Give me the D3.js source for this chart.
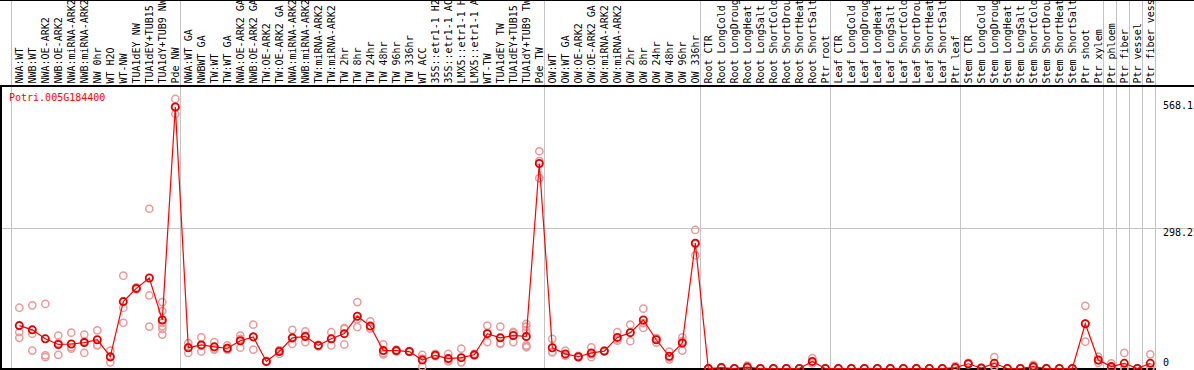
<!DOCTYPE html>
<meta charset="utf-8">
<style>
body { margin: 0; background: #fff; }
text { font-family: "DejaVu Sans Mono", monospace; font-size: 10px; }
</style>
<body>
<script src="https://cdn.jsdelivr.net/npm/d3@7/dist/d3.min.js"></script>
<script>

// sample labels, in column order
var labels = [
  "NWA:WT", "NWB:WT", "NWA:OE-ARK2", "NWB:OE-ARK2", "NWA:miRNA-ARK2", "NWB:miRNA-ARK2",
  "NW 0hr", "WT H2O", "WT-NW", "TUA1dEY NW", "TUA1dEY+TUB15 NW", "TUA1dY+TUB9 NW", "Pde NW",
  "NWA:WT GA", "NWBWT GA", "TW:WT", "TW:WT GA", "NWA:OE-ARK2 GA", "NWB:OE-ARK2 GA",
  "TW:OE-ARK2", "TW:OE-ARK2 GA", "NWA:miRNA-ARK2", "NWB:miRNA-ARK2", "TW:miRNA-ARK2", "TW:miRNA-ARK2",
  "TW 2hr", "TW 8hr", "TW 24hr", "TW 48hr", "TW 96hr", "TW 336hr", "WT ACC",
  "35S::etr1-1 H2O", "35S::etr1-1 ACC", "LMX5::etr1-1 H2O", "LMX5::etr1-1 ACC",
  "WT-TW", "TUA1dEY TW", "TUA1dEY+TUB15 TW", "TUA1dY+TUB9 TW", "Pde TW",
  "OW:WT", "OW:WT GA", "OW:OE-ARK2", "OW:OE-ARK2 GA", "OW:miRNA-ARK2", "OW:miRNA-ARK2",
  "OW 2hr", "OW 8hr", "OW 24hr", "OW 48hr", "OW 96hr", "OW 336hr",
  "Root CTR", "Root LongCold", "Root LongDrought", "Root LongHeat", "Root LongSalt",
  "Root ShortCold", "Root ShortDrought", "Root ShortHeat", "Root ShortSalt", "Ptr root",
  "Leaf CTR", "Leaf LongCold", "Leaf LongDrought", "Leaf LongHeat", "Leaf LongSalt",
  "Leaf ShortCold", "Leaf ShortDrought", "Leaf ShortHeat", "Leaf ShortSalt", "Ptr leaf",
  "Stem CTR", "Stem LongCold", "Stem LongDrought", "Stem LongHeat", "Stem LongSalt",
  "Stem ShortCold", "Stem ShortDrought", "Stem ShortHeat", "Stem ShortSalt", "Ptr shoot", "Ptr xylem",
  "Ptr phloem", "Ptr fiber", "Ptr vessel", "Ptr fiber vessel"
];

// index where each sample group begins
var groupStarts = [0, 13, 41, 53, 63, 73, 84, 85, 86, 87];

// mean expression per sample
var means = [
  91, 82, 63, 51, 52, 55, 61, 25, 142, 170, 192, 103, 555,
  44, 50, 46, 43, 59, 67, 15, 36, 65, 68, 49, 63, 74, 111, 90, 38, 38, 36, 18, 28, 21, 23, 29, 74, 65, 70, 68, 435,
  44, 31, 25, 33, 37, 66, 76, 103, 61, 26, 54, 266,
  0, 2, 0, 3, 0, 0, 0, 0, 15, 0,
  0, 0, 0, 0, 0, 0, 0, 0, 0, 2,
  10, 1, 11, 0, 0, 4, 0, 0, 0, 95, 18,
  4, 11, 0, 11
];

// replicate values per sample
var replicates = [
  [129, 77, 65], [134, 74, 38], [137, 28, 24], [70, 29, 54], [76, 42, 45], [72, 33, 58],
  [81, 49, 50], [38, 13, 24], [197, 129, 97], [172, 168, 170], [339, 155, 89],
  [141, 122, 97, 90, 84, 72], [572, 540, 555],
  [54, 33, 45], [66, 36, 48], [56, 42, 40], [49, 40, 40], [70, 44, 63], [93, 40, 68],
  [16, 14, 15], [38, 31, 39], [82, 52, 64], [79, 56, 70], [50, 47, 49], [77, 49, 63],
  [86, 51, 84], [141, 88, 104], [100, 85, 85], [51, 30, 33], [40, 36, 38], [36, 35, 37],
  [29, 4, 21], [31, 26, 27], [31, 15, 17], [42, 13, 14], [31, 27, 29], [91, 56, 75],
  [89, 52, 54], [75, 78, 56], [95, 89, 80, 49, 45, 47], [461, 404, 440],
  [63, 35, 34], [38, 28, 27], [25, 23, 27], [45, 24, 30], [36, 38, 37], [77, 59, 62],
  [93, 58, 77], [127, 86, 96], [64, 55, 64], [36, 19, 23], [66, 38, 58], [294, 240, 264],
  [0, 0, 0], [3, 1, 2], [0, 0, 0], [6, 2, 1], [0, 0, 0], [0, 0, 0], [0, 0, 0], [0, 0, 0],
  [22, 12, 11], [0, 0, 0],
  [0, 0, 0], [0, 0, 0], [0, 0, 0], [0, 0, 0], [0, 0, 0], [0, 0, 0], [0, 0, 0], [0, 0, 0],
  [0, 0, 0], [5, 0, 1],
  [12, 9, 9], [1, 0, 1], [24, 5, 4], [0, 0, 0], [0, 0, 0], [8, 2, 2], [0, 0, 0], [0, 0, 0],
  [0, 0, 0], [133, 57, 95], [25, 12, 17],
  [11, 0, 0], [33, 0, 0], [0, 0, 0], [30, 2, 1]
];

var geneName = "Potri.005G184400";
var yTicks = [0, 298.2, 568.1];
var gridTicks = [298.2];

var width = 1194, height = 370,
    headerBottom = 85, plotBottom = 369;

var svg = d3.select("body").append("svg")
    .attr("width", width)
    .attr("height", height);

// one 13px band per sample
var x = d3.scaleBand()
    .domain(d3.range(labels.length))
    .range([11, 1155]);
var cx = function(i) { return x(i) + 8.3; };

var y = d3.scaleLinear()
    .domain([0, 568.1])
    .range([368.5, 100.8]);

// gray grid lines
svg.selectAll(".hgrid")
    .data(gridTicks)
  .enter().append("line")
    .attr("x1", 0).attr("x2", width)
    .attr("y1", function(d) { return Math.round(y(d)) + 0.5; })
    .attr("y2", function(d) { return Math.round(y(d)) + 0.5; })
    .attr("stroke", "#c4c4c4")
    .attr("shape-rendering", "crispEdges");

var seps = groupStarts.concat([labels.length]);
svg.selectAll(".vgrid")
    .data(seps)
  .enter().append("line")
    .attr("x1", function(d) { return Math.round(d < labels.length ? x(d) : x(labels.length - 1) + x.bandwidth()) + 0.5; })
    .attr("x2", function(d) { return Math.round(d < labels.length ? x(d) : x(labels.length - 1) + x.bandwidth()) + 0.5; })
    .attr("y1", 0).attr("y2", plotBottom)
    .attr("stroke", "#c4c4c4")
    .attr("shape-rendering", "crispEdges");

// frame
svg.append("line").attr("x1", 0).attr("x2", width).attr("y1", 0.5).attr("y2", 0.5)
    .attr("stroke", "#000").attr("shape-rendering", "crispEdges");
svg.append("line").attr("x1", 0).attr("x2", width).attr("y1", headerBottom + 0.5).attr("y2", headerBottom + 0.5)
    .attr("stroke", "#000").attr("stroke-width", 2).attr("shape-rendering", "crispEdges");
svg.append("line").attr("x1", 1).attr("x2", 1).attr("y1", headerBottom).attr("y2", height)
    .attr("stroke", "#000").attr("stroke-width", 2).attr("shape-rendering", "crispEdges");
svg.append("line").attr("x1", 0).attr("x2", 1156).attr("y1", plotBottom).attr("y2", plotBottom)
    .attr("stroke", "#000").attr("stroke-width", 2).attr("shape-rendering", "crispEdges");

// vertical sample labels in the header
svg.selectAll(".label")
    .data(labels)
  .enter().append("text")
    .attr("class", "label")
    .attr("transform", function(d, i) { return "translate(" + (cx(i) + 0.5) + "," + 83.5 + ") rotate(-90)"; })
    .attr("dy", "0.35em")
    .attr("fill", "#000")
    .text(function(d) { return d; });

// right-side value labels
svg.selectAll(".ytick")
    .data(yTicks)
  .enter().append("text")
    .attr("x", 1163)
    .attr("y", function(d) { return d === 0 ? y(d) - 3 : y(d) + 1; })
    .attr("dominant-baseline", function(d) { return d === 0 ? "auto" : "hanging"; })
    .attr("fill", "#000")
    .text(function(d) { return d; });

// gene name
svg.append("text")
    .attr("x", 9).attr("y", 101)
    .attr("fill", "#ff0000")
    .text(geneName);

// replicate circles
var repPoints = [];
replicates.forEach(function(r, i) {
  r.forEach(function(v) { repPoints.push({i: i, v: v}); });
});
svg.selectAll(".rep")
    .data(repPoints)
  .enter().append("circle")
    .attr("cx", function(d) { return cx(d.i); })
    .attr("cy", function(d) { return y(d.v); })
    .attr("r", 3.6)
    .attr("fill", "none")
    .attr("stroke", "#eb9a9a")
    .attr("stroke-width", 1.5);

// mean line
var line = d3.line()
    .x(function(d, i) { return cx(i); })
    .y(function(d) { return y(d); });
svg.append("path")
    .datum(means)
    .attr("d", line)
    .attr("fill", "none")
    .attr("stroke", "#ff0000")
    .attr("stroke-width", 1.2);

svg.selectAll(".mean")
    .data(means)
  .enter().append("circle")
    .attr("cx", function(d, i) { return cx(i); })
    .attr("cy", function(d) { return y(d); })
    .attr("r", 3.6)
    .attr("fill", "none")
    .attr("stroke", "#e00000")
    .attr("stroke-width", 1.8);

</script>
</body>
